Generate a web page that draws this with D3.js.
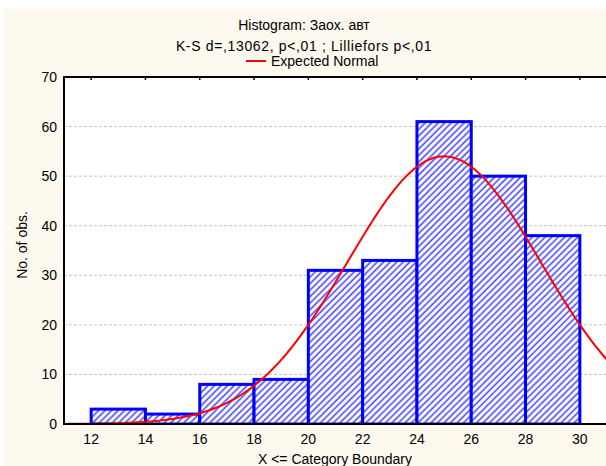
<!DOCTYPE html>
<html>
<head>
<meta charset="utf-8">
<script src="https://cdn.jsdelivr.net/npm/d3@7"></script>
<style>
  html, body { margin: 0; padding: 0; background: #ffffff; }
  svg { display: block; font-family: "Liberation Sans", Arial, sans-serif; }
</style>
</head>
<body>
<svg id="chart" width="606" height="466"></svg>
<script>
// Histogram bins (upper category boundaries) and counts
const binStarts = [12, 14, 16, 18, 20, 22, 24, 26, 28];
const binWidth = 2;
const counts = [3, 2, 8, 9, 31, 33, 61, 50, 38];

// Axis ticks
const xTicks = [12, 14, 16, 18, 20, 22, 24, 26, 28, 30];
const yTicks = [0, 10, 20, 30, 40, 50, 60, 70];

// Fitted normal curve parameters (expected count per bin)
const normalMean = 25.0;
const normalSd = 3.55;
const normalPeak = 54;

const titleLines = ["Histogram: Заох. авт", "K-S d=,13062, p<,01 ; Lilliefors p<,01"];
const legendLabel = "Expected Normal";
const xLabel = "X <= Category Boundary";
const yLabel = "No. of obs.";

const svg = d3.select("#chart");
const W = 606, H = 466;
const plot = { left: 64, right: 607, top: 77, bottom: 424 };

// panel background
svg.append("rect").attr("x", 4).attr("y", 9).attr("width", W + 10).attr("height", H + 10)
  .attr("rx", 4).attr("fill", "#fdf9ef");

const x = d3.scaleLinear().domain([11, 31]).range([plot.left, plot.right]);
const y = d3.scaleLinear().domain([0, 70]).range([plot.bottom, plot.top]);

const defs = svg.append("defs");
const pat = defs.append("pattern").attr("id", "hatch")
  .attr("patternUnits", "userSpaceOnUse").attr("width", 4.6).attr("height", 4.6)
  .attr("patternTransform", "rotate(45)");
pat.append("rect").attr("width", 4.6).attr("height", 4.6).attr("fill", "#ffffff");
pat.append("line").attr("x1", 1.2).attr("y1", 0).attr("x2", 1.2).attr("y2", 4.6)
  .attr("stroke", "#4a4aff").attr("stroke-width", 1.6);

defs.append("clipPath").attr("id", "plotclip").append("rect")
  .attr("x", plot.left).attr("y", plot.top - 2)
  .attr("width", plot.right - plot.left).attr("height", plot.bottom - plot.top + 2);

// plot area
svg.append("rect").attr("x", plot.left).attr("y", plot.top)
  .attr("width", plot.right - plot.left).attr("height", plot.bottom - plot.top)
  .attr("fill", "#ffffff");

// horizontal grid
svg.append("g").selectAll("line").data(yTicks.filter(v => v > 0 && v < 70)).join("line")
  .attr("x1", plot.left).attr("x2", plot.right)
  .attr("y1", d => y(d)).attr("y2", d => y(d))
  .attr("stroke", "#c4c4c4").attr("stroke-width", 1).attr("stroke-dasharray", "3,2");

const g = svg.append("g").attr("clip-path", "url(#plotclip)");

// bars
g.selectAll("rect.bar").data(binStarts).join("rect").attr("class", "bar")
  .attr("x", d => x(d))
  .attr("y", (d, i) => y(counts[i]))
  .attr("width", d => x(d + binWidth) - x(d))
  .attr("height", (d, i) => y(0) - y(counts[i]))
  .attr("fill", "url(#hatch)")
  .attr("stroke", "#0000ff").attr("stroke-width", 3);

// expected normal curve
const curveXs = d3.range(11, 31.01, 0.1);
const normal = v => normalPeak * Math.exp(-0.5 * Math.pow((v - normalMean) / normalSd, 2));
g.append("path").datum(curveXs)
  .attr("d", d3.line().x(d => x(d)).y(d => y(normal(d))))
  .attr("fill", "none").attr("stroke", "#ff0000").attr("stroke-width", 2);

// axes frame
const axisG = svg.append("g");
axisG.append("line").attr("x1", plot.left).attr("x2", plot.right)
  .attr("y1", plot.top).attr("y2", plot.top).attr("stroke", "#000").attr("stroke-width", 2);
axisG.append("line").attr("x1", plot.left).attr("x2", plot.right)
  .attr("y1", plot.bottom).attr("y2", plot.bottom).attr("stroke", "#000").attr("stroke-width", 2);
axisG.append("line").attr("x1", plot.left).attr("x2", plot.left)
  .attr("y1", plot.top - 1).attr("y2", plot.bottom + 1).attr("stroke", "#000").attr("stroke-width", 2);

// small inward ticks on the top frame
axisG.selectAll("line.tt").data(xTicks).join("line").attr("class", "tt")
  .attr("x1", d => x(d)).attr("x2", d => x(d))
  .attr("y1", plot.top).attr("y2", plot.top + 3)
  .attr("stroke", "#000").attr("stroke-width", 1.5);

// y tick labels
svg.append("g").selectAll("text").data(yTicks).join("text")
  .attr("x", 57).attr("y", d => y(d) + 5)
  .attr("text-anchor", "end").attr("font-size", 14).attr("fill", "#000")
  .text(d => d);

// x tick labels
svg.append("g").selectAll("text").data(xTicks).join("text")
  .attr("x", d => x(d)).attr("y", 444)
  .attr("text-anchor", "middle").attr("font-size", 14).attr("fill", "#000")
  .text(d => d);

// titles
svg.append("text").attr("x", 304).attr("y", 30).attr("text-anchor", "middle")
  .attr("font-size", 14).text(titleLines[0]);
svg.append("text").attr("x", 304).attr("y", 51).attr("text-anchor", "middle")
  .attr("font-size", 14).attr("letter-spacing", 0.65).text(titleLines[1]);

// legend
svg.append("line").attr("x1", 246).attr("x2", 266).attr("y1", 61).attr("y2", 61)
  .attr("stroke", "#ff0000").attr("stroke-width", 2);
svg.append("text").attr("x", 271).attr("y", 66).attr("font-size", 14).text(legendLabel);

// axis titles
svg.append("text").attr("x", 335).attr("y", 464).attr("text-anchor", "middle")
  .attr("font-size", 14).text(xLabel);
svg.append("text").attr("transform", "translate(27,245) rotate(-90)")
  .attr("text-anchor", "middle").attr("font-size", 14).text(yLabel);
</script>
</body>
</html>
